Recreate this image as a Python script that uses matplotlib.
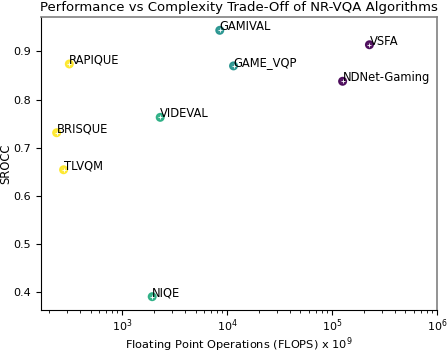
import numpy as np
import matplotlib.pyplot as plt

names = ["GAMIVAL", "VSFA", "RAPIQUE", "GAME_VQP", "NDNet-Gaming",
         "VIDEVAL", "BRISQUE", "TLVQM", "NIQE"]
flops = [8500, 227000, 313, 11500, 126000, 2300, 237, 276, 1930]
srocc = [0.944, 0.914, 0.874, 0.870, 0.838, 0.763, 0.731, 0.654, 0.390]
group = [0.5, 0.0, 1.0, 0.5, 0.0, 0.62, 1.0, 1.0, 0.62]

fig = plt.figure(figsize=(4.48, 3.52), dpi=100)
ax = fig.add_axes([41 / 448, 1 - 310 / 352, 396 / 448, 293 / 352])

ax.scatter(flops, srocc, c=group, cmap="viridis", vmin=0, vmax=1, s=30, alpha=0.9, zorder=2)
ax.scatter(flops, srocc, marker="+", color="white", s=12, linewidths=0.6, zorder=3)
for n, x, y in zip(names, flops, srocc):
    ax.text(x, y, n, fontsize=8.3)

ax.set_xscale("log")
ax.set_xlim(right=1e6)
ax.set_xlabel("Floating Point Operations (FLOPS) x $10^9$", fontsize=8.2, labelpad=0.5)
ax.set_ylabel("SROCC", fontsize=8.3, labelpad=1)
ax.set_title("Performance vs Complexity Trade-Off of NR-VQA Algorithms", fontsize=9.5, pad=4)
ax.tick_params(labelsize=8)
ax.tick_params(axis="x", which="both", top=False, pad=2)
ax.tick_params(axis="y", right=False)
for s in ["top", "right"]:
    ax.spines[s].set_color("gray")
    ax.spines[s].set_linewidth(1.2)

fig.savefig("out.png", dpi=100)
